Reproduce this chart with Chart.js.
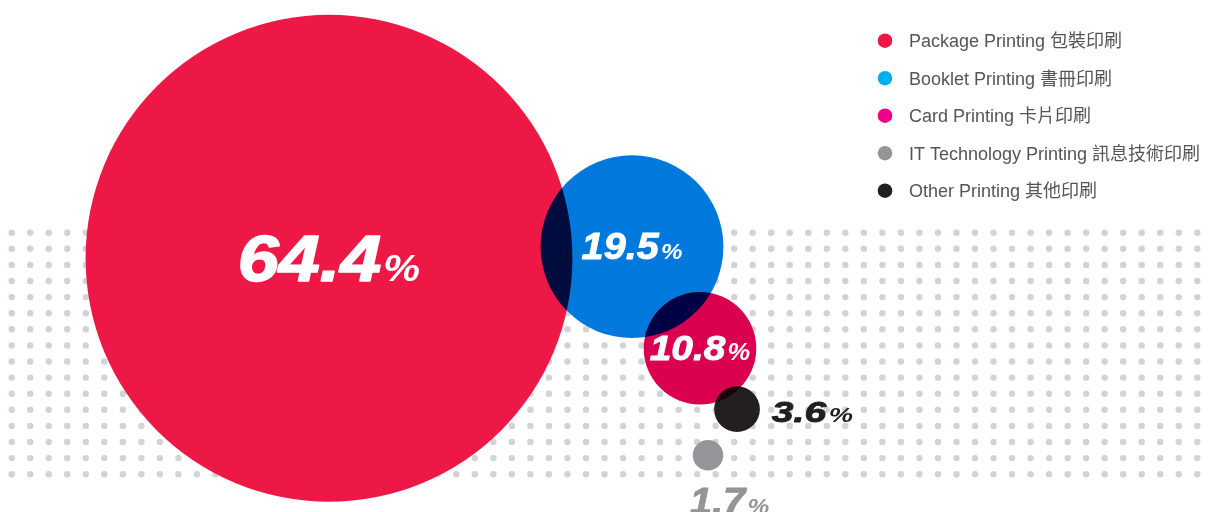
<!DOCTYPE html>
<html>
<head>
<meta charset="utf-8">
<title>Printing business share</title>
<script src="https://cdn.jsdelivr.net/npm/chart.js@4/dist/chart.umd.min.js"></script>
<style>
  html, body { margin: 0; padding: 0; background: #ffffff; }
  #wrap { width: 1210px; height: 512px; position: relative; overflow: hidden; }
</style>
</head>
<body>
<div id="wrap"><canvas id="chart" width="1210" height="512"></canvas></div>
<script>
// ---- data ----
const categories = [
  'Package Printing 包裝印刷',
  'Booklet Printing 書冊印刷',
  'Card Printing 卡片印刷',
  'IT Technology Printing 訊息技術印刷',
  'Other Printing 其他印刷'
];
const shares = [64.4, 19.5, 10.8, 1.7, 3.6];   // percent of revenue

// ---- styling ----
const bubbleColors = ['#ED1846', '#0078DC', '#DA004F', '#939598', '#231F20'];
const legendColors = ['#ED1846', '#00AEEF', '#EC008C', '#939598', '#231F20'];
const labelColors  = ['#FFFFFF', '#FFFFFF', '#FFFFFF', '#939598', '#231F20'];

// ---- layout (scale units, 1 unit = 1 px of the 1210x512 canvas) ----
const bubbleX = [329, 632, 700, 708, 737];
const bubbleY = [258.3, 246.7, 348.3, 455.3, 409.2];
// label placement relative to each bubble: inside, to the right, or below
const labelPlace = ['center', 'center', 'center', 'below', 'right'];
const labelFont = [   // [number px, percent px, horizontal stretch, baseline offset, extra weight]
  [64, 36, 1.15, 23, 1.6],
  [36, 22, 1.10, 12.6, 0.9],
  [35, 23, 1.11, 12, 0.9],
  [36, 22, 1.11, 0, 0.9],
  [30, 21, 1.30, 13, 0.9]
];

// bubble radius grows with the share; tiny shares keep a visible minimum size
function bubbleRadius(v) {
  return Math.max(15.3, 8 * Math.pow(v, 0.82));
}

// light dotted backdrop behind the bubbles
const dotGrid = { x0: 11.7, dx: 18.525, cols: 65, y0: 232.7, dy: 16.1, rows: 16, r: 3.2, color: '#D1D3D4' };

const backdropPlugin = {
  id: 'backdrop',
  beforeDatasetsDraw(chart) {
    const ctx = chart.ctx;
    ctx.save();
    ctx.fillStyle = dotGrid.color;
    for (let j = 0; j < dotGrid.rows; j++) {
      for (let i = 0; i < dotGrid.cols; i++) {
        ctx.beginPath();
        ctx.arc(dotGrid.x0 + i * dotGrid.dx, dotGrid.y0 + j * dotGrid.dy, dotGrid.r, 0, Math.PI * 2);
        ctx.fill();
      }
    }
    // knock the dots out under every bubble so the blend only mixes bubbles
    ctx.fillStyle = '#ffffff';
    chart.getDatasetMeta(0).data.forEach(el => {
      ctx.beginPath();
      ctx.arc(el.x, el.y, el.options.radius, 0, Math.PI * 2);
      ctx.fill();
    });
    ctx.restore();
  },
  beforeDatasetDraw(chart) {
    chart.ctx.save();
    chart.ctx.globalCompositeOperation = 'multiply';
  },
  afterDatasetDraw(chart) {
    chart.ctx.restore();
  }
};

const valueLabelPlugin = {
  id: 'valueLabels',
  afterDatasetsDraw(chart) {
    const ctx = chart.ctx;
    const meta = chart.getDatasetMeta(0);
    meta.data.forEach((el, i) => {
      const [numPx, pctPx, sx, off, weight] = labelFont[i];
      const num = shares[i].toFixed(1);
      const numFont = 'italic bold ' + numPx + 'px "Liberation Sans", Arial, sans-serif';
      const pctFont = 'italic bold ' + pctPx + 'px "Liberation Sans", Arial, sans-serif';
      ctx.save();
      ctx.font = numFont;
      const wNum = ctx.measureText(num).width;
      ctx.font = pctFont;
      const wPct = ctx.measureText('%').width;
      const gap = 2;
      const total = (wNum + gap + wPct) * sx;
      const r = el.options.radius;
      let left, base;
      if (labelPlace[i] === 'center') {
        left = el.x - total / 2;
        base = el.y + off;
      } else if (labelPlace[i] === 'right') {
        left = el.x + r + 12;
        base = el.y + off;
      } else {
        left = el.x - r - 3;
        base = el.y + r + 17 + numPx * 0.72;
      }
      ctx.fillStyle = labelColors[i];
      ctx.strokeStyle = labelColors[i];
      ctx.lineWidth = weight;
      ctx.lineJoin = 'round';
      ctx.textBaseline = 'alphabetic';
      ctx.textAlign = 'left';
      ctx.translate(left, base);
      ctx.scale(sx, 1);
      ctx.font = numFont;
      ctx.fillText(num, 0, 0);
      ctx.strokeText(num, 0, 0);
      ctx.font = pctFont;
      ctx.fillText('%', wNum + gap, 0);
      ctx.restore();
    });
  }
};

const legendPlugin = {
  id: 'sideLegend',
  afterDraw(chart) {
    const ctx = chart.ctx;
    const x = 885, y0 = 40.7, step = 37.5;
    ctx.save();
    ctx.font = '18px "Liberation Sans", "Noto Sans CJK TC", sans-serif';
    ctx.textBaseline = 'alphabetic';
    categories.forEach((name, i) => {
      const y = y0 + i * step;
      ctx.fillStyle = legendColors[i];
      ctx.beginPath();
      ctx.arc(x, y, 7.3, 0, Math.PI * 2);
      ctx.fill();
      ctx.fillStyle = '#545557';
      ctx.fillText(name, 909, y + 6.3);
    });
    ctx.restore();
  }
};

new Chart(document.getElementById('chart'), {
  type: 'bubble',
  data: {
    datasets: [{
      label: 'Share',
      data: shares.map((v, i) => ({ x: bubbleX[i], y: bubbleY[i], r: bubbleRadius(v) })),
      backgroundColor: bubbleColors,
      borderWidth: 0,
      hoverRadius: 0,
      clip: false
    }]
  },
  options: {
    responsive: false,
    animation: false,
    events: [],
    layout: { padding: 0, autoPadding: false },
    plugins: { legend: { display: false }, tooltip: { enabled: false } },
    scales: {
      x: { type: 'linear', min: 0, max: 1210, display: false },
      y: { type: 'linear', min: 0, max: 512, reverse: true, display: false }
    }
  },
  plugins: [backdropPlugin, valueLabelPlugin, legendPlugin]
});
</script>
</body>
</html>
